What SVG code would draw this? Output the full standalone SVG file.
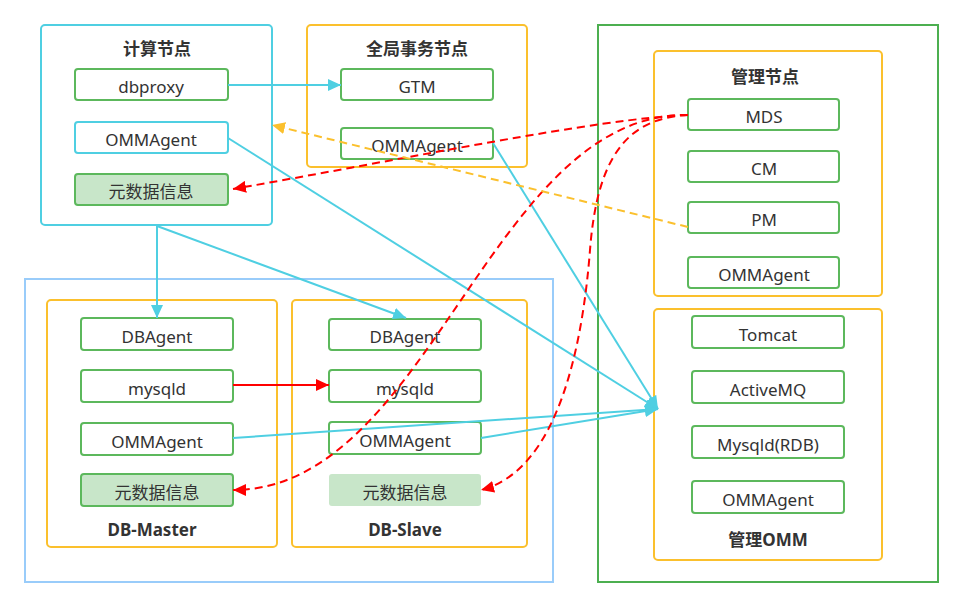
<svg xmlns="http://www.w3.org/2000/svg" width="963" height="608" viewBox="0 0 963 608">
<defs>
<style>
.grp{fill:#fff;stroke:#fbc02d;stroke-width:2}
.nd{fill:#fff;stroke:#5cb85c;stroke-width:2}
.nc{fill:#fff;stroke:#4fcfe2;stroke-width:2}
.meta{fill:#c8e6c9;stroke:#5cb85c;stroke-width:2}
.meta2{fill:#c8e6c9;stroke:none}
text{font-family:"Noto Sans","Open Sans","Noto Sans CJK SC",sans-serif;fill:#333;text-anchor:middle;dominant-baseline:central}
.lb{font-size:17px}
.tt{font-size:17px;font-weight:bold}
.cy{fill:none;stroke:#4fcfe2;stroke-width:2;marker-end:url(#ac)}
.rs{fill:none;stroke:#ff0000;stroke-width:2;marker-end:url(#ar)}
.rd{fill:none;stroke:#ff0000;stroke-width:2;stroke-dasharray:8 5;marker-end:url(#ar)}
.od{fill:none;stroke:#fbc02d;stroke-width:2;stroke-dasharray:8 5;marker-end:url(#ao)}
</style>
<marker id="ac" markerUnits="userSpaceOnUse" markerWidth="14" markerHeight="12" refX="13" refY="6" orient="auto"><path d="M0,0 L13,6 L0,12 z" fill="#4fcfe2"/></marker>
<marker id="ar" markerUnits="userSpaceOnUse" markerWidth="14" markerHeight="12" refX="13" refY="6" orient="auto"><path d="M0,0 L13,6 L0,12 z" fill="#ff0000"/></marker>
<marker id="ao" markerUnits="userSpaceOnUse" markerWidth="14" markerHeight="12" refX="13" refY="6" orient="auto"><path d="M0,0 L13,6 L0,12 z" fill="#fbc02d"/></marker>
</defs>
<rect width="963" height="608" fill="#fff"/>

<g id="db-area"><rect x="25" y="279" width="528" height="303" fill="#fff" stroke="#99ccfa" stroke-width="2"/></g>
<g id="mgmt-area"><rect x="598" y="25" width="340" height="557" fill="#fff" stroke="#4caf50" stroke-width="2"/></g>

<g id="compute">
<rect x="41" y="25" width="231" height="200" rx="4" fill="#fff" stroke="#4fcfe2" stroke-width="2"/>
<text class="tt" x="157" y="48">计算节点</text>
</g>
<g id="c-dbproxy"><rect class="nd" x="75" y="69" width="153" height="31" rx="3"/><text class="lb" x="151" y="86">dbproxy</text></g>
<g id="c-omm"><rect class="nc" x="75" y="122" width="153" height="31" rx="3"/><text class="lb" x="151" y="139">OMMAgent</text></g>
<g id="c-meta"><rect class="meta" x="75" y="174" width="153" height="31" rx="3"/><text class="lb" x="151" y="191">元数据信息</text></g>

<g id="gtm-node"><rect class="grp" x="307" y="25" width="220" height="142" rx="4"/><text class="tt" x="417" y="48">全局事务节点</text></g>
<g id="g-gtm"><rect class="nd" x="341" y="69" width="152" height="31" rx="3"/><text class="lb" x="417" y="86">GTM</text></g>
<g id="g-omm"><rect class="nd" x="341" y="128" width="152" height="31" rx="3"/><text class="lb" x="417" y="145">OMMAgent</text></g>

<g id="mgr-node"><rect class="grp" x="654" y="51" width="228" height="245" rx="4"/><text class="tt" x="765" y="76">管理节点</text></g>
<g id="m-mds"><rect class="nd" x="688" y="99" width="151" height="31" rx="3"/><text class="lb" x="764" y="116">MDS</text></g>
<g id="m-cm"><rect class="nd" x="688" y="151" width="151" height="31" rx="3"/><text class="lb" x="764" y="168">CM</text></g>
<g id="m-pm"><rect class="nd" x="688" y="202" width="151" height="31" rx="3"/><text class="lb" x="764" y="219">PM</text></g>
<g id="m-omm"><rect class="nd" x="688" y="257" width="151" height="31" rx="3"/><text class="lb" x="764" y="274">OMMAgent</text></g>

<g id="omm-node"><rect class="grp" x="654" y="309" width="228" height="251" rx="4"/><text class="tt" x="768" y="539">管理OMM</text></g>
<g id="o-tomcat"><rect class="nd" x="692" y="316" width="152" height="32" rx="3"/><text class="lb" x="768" y="334">Tomcat</text></g>
<g id="o-amq"><rect class="nd" x="692" y="371" width="152" height="32" rx="3"/><text class="lb" x="768" y="389">ActiveMQ</text></g>
<g id="o-rdb"><rect class="nd" x="692" y="426" width="152" height="32" rx="3"/><text class="lb" x="768" y="444">Mysqld(RDB)</text></g>
<g id="o-omm"><rect class="nd" x="692" y="481" width="152" height="32" rx="3"/><text class="lb" x="768" y="499">OMMAgent</text></g>

<g id="db-master"><rect class="grp" x="47" y="300" width="230" height="247" rx="4"/><text class="tt" x="152" y="529">DB-Master</text></g>
<g id="dm-agent"><rect class="nd" x="81" y="318" width="152" height="32" rx="3"/><text class="lb" x="157" y="336">DBAgent</text></g>
<g id="dm-mysqld"><rect class="nd" x="81" y="370" width="152" height="32" rx="3"/><text class="lb" x="157" y="388">mysqld</text></g>
<g id="dm-omm"><rect class="nd" x="81" y="423" width="152" height="32" rx="3"/><text class="lb" x="157" y="441">OMMAgent</text></g>
<g id="dm-meta"><rect class="meta" x="81" y="474" width="152" height="32" rx="3"/><text class="lb" x="157" y="492">元数据信息</text></g>

<g id="db-slave"><rect class="grp" x="292" y="300" width="235" height="247" rx="4"/><text class="tt" x="405" y="529">DB-Slave</text></g>
<g id="ds-agent"><rect class="nd" x="329" y="319" width="152" height="31" rx="3"/><text class="lb" x="405" y="336">DBAgent</text></g>
<g id="ds-mysqld"><rect class="nd" x="329" y="370" width="152" height="32" rx="3"/><text class="lb" x="405" y="388">mysqld</text></g>
<g id="ds-omm"><rect class="nd" x="329" y="422" width="152" height="32" rx="3"/><text class="lb" x="405" y="440">OMMAgent</text></g>
<g id="ds-meta"><rect class="meta2" x="329" y="474" width="152" height="32" rx="3"/><text class="lb" x="405" y="492">元数据信息</text></g>

<g id="connectors">
<line class="cy" x1="228" y1="85" x2="341" y2="85"/>
<line class="cy" x1="157" y1="226" x2="157" y2="318"/>
<line class="cy" x1="157" y1="226" x2="406" y2="318"/>
<line class="cy" x1="228" y1="138" x2="658" y2="409"/>
<line class="cy" x1="493" y1="143" x2="658" y2="409"/>
<line class="cy" x1="233" y1="438" x2="658" y2="409"/>
<line class="cy" x1="481" y1="438" x2="658" y2="409"/>
<line class="rs" x1="233" y1="385" x2="329" y2="385"/>
<path class="rd" d="M688,115 C600,118 400,160 233,189"/>
<path class="rd" d="M688,115 C490,112 430,490 233,490"/>
<path class="rd" d="M688,115 C625,118 597,160 590,250 S560,470 481,490"/>
<line class="od" x1="688" y1="227" x2="272" y2="125"/>
</g>
</svg>
